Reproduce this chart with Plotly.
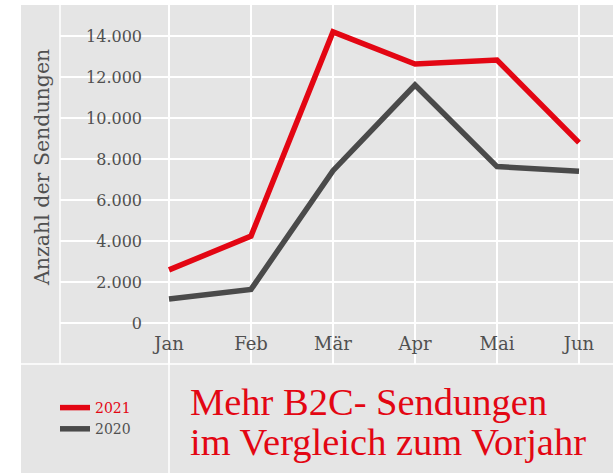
import plotly.graph_objects as go

months = ["Jan", "Feb", "Mär", "Apr", "Mai", "Jun"]
values_2021 = [2590, 4240, 14200, 12630, 12830, 8800]
values_2020 = [1170, 1640, 7430, 11610, 7630, 7400]
tick_values = [0, 2000, 4000, 6000, 8000, 10000, 12000, 14000]
tick_labels = ["0", "2.000", "4.000", "6.000", "8.000", "10.000", "12.000", "14.000"]

W, H = 613, 473
RED = "#e30613"
DARK = "#4a4a4a"
BG = "#e5e5e5"
TXT = "#505050"

def px(x):
    return x / W

def py(y):
    return (H - y) / H

fig = go.Figure()
fig.add_trace(go.Scatter(
    x=months, y=values_2021, mode="lines",
    name="<span style='color:%s'>2021</span>" % RED,
    line=dict(color=RED, width=5.5),
))
fig.add_trace(go.Scatter(
    x=months, y=values_2020, mode="lines",
    name="<span style='color:%s'>2020</span>" % TXT,
    line=dict(color=DARK, width=5.5),
))

shapes = [
    dict(type="rect", xref="paper", yref="paper", x0=px(21), x1=1, y0=0, y1=py(5),
         fillcolor=BG, line=dict(width=0), layer="below"),
    dict(type="line", xref="paper", yref="paper", x0=px(60), x1=px(60), y0=py(364), y1=py(5),
         line=dict(color="white", width=1.5), layer="below"),
    dict(type="line", xref="paper", yref="paper", x0=px(21), x1=1, y0=py(364), y1=py(364),
         line=dict(color="white", width=1.5), layer="below"),
    dict(type="line", xref="x", yref="paper", x0=0, x1=0, y0=0, y1=py(364),
         line=dict(color="white", width=1.5), layer="below"),
]

annotations = [
    dict(text="Anzahl der Sendungen", textangle=-90, xref="paper", yref="paper",
         x=px(42), y=py(168), xanchor="center", yanchor="middle", showarrow=False,
         font=dict(family="DejaVu Serif", size=20.5, color=TXT)),
    dict(text="Mehr B2C- Sendungen", xref="paper", yref="paper",
         x=px(188), y=py(402), xanchor="left", yanchor="middle", showarrow=False,
         font=dict(family="Liberation Serif", size=38.5, color=RED)),
    dict(text="im Vergleich zum Vorjahr", xref="paper", yref="paper",
         x=px(188), y=py(442), xanchor="left", yanchor="middle", showarrow=False,
         font=dict(family="Liberation Serif", size=38.5, color=RED)),
]

fig.update_layout(
    width=W, height=H,
    margin=dict(l=0, r=0, t=0, b=0),
    paper_bgcolor="white",
    plot_bgcolor=BG,
    showlegend=True,
    legend=dict(x=px(55), y=py(392), xanchor="left", yanchor="top",
                bgcolor="rgba(0,0,0,0)", font=dict(family="DejaVu Serif", size=14, color=TXT),
                traceorder="normal"),
    xaxis=dict(domain=[px(60), 1], anchor="free", position=py(331),
               range=[-(169 - 60) / 82, 5 + (613 - 579) / 82],
               showgrid=True, gridcolor="white", gridwidth=1.5,
               showline=False, zeroline=False, ticks="",
               tickfont=dict(family="DejaVu Serif", size=18, color=TXT)),
    yaxis=dict(domain=[py(364), py(5)], anchor="free", position=px(142),
               range=[-2000, 15512],
               tickvals=tick_values, ticktext=tick_labels,
               showgrid=True, gridcolor="white", gridwidth=1.5,
               showline=False, zeroline=False, ticks="",
               tickfont=dict(family="DejaVu Serif", size=16, color=TXT)),
    shapes=shapes,
    annotations=annotations,
)

fig.write_html("out.html", config={"displayModeBar": False},
               post_script="document.body.style.margin='0';")
